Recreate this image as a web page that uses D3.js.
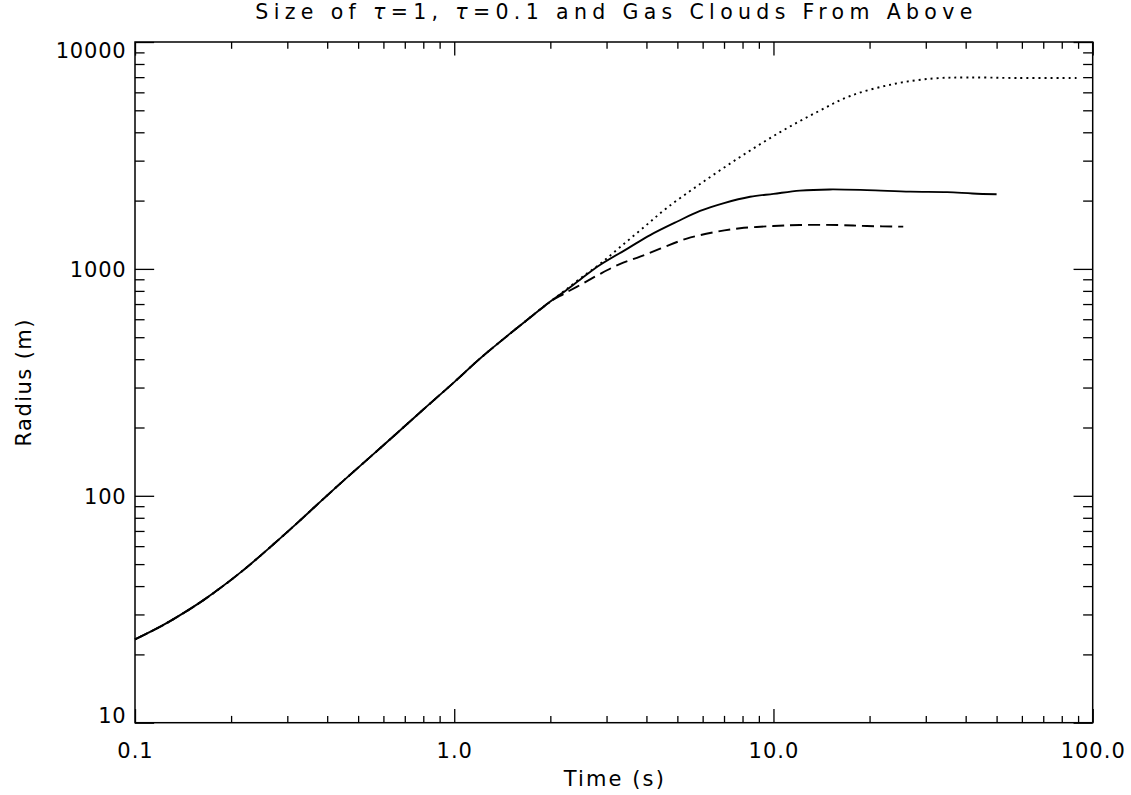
<!DOCTYPE html>
<html>
<head>
  <meta charset="UTF-8">
  <title>Size of tau clouds</title>
  <script src="https://d3js.org/d3.v7.min.js"></script>
  <style>
    body { margin: 0; background: #fff; }
    svg { display: block; }
    text { font-family: "DejaVu Sans", sans-serif; fill: #000; }
    .axis path.domain { display: none; }
    .axis line { stroke: #000; stroke-width: 1.3; }
    .curve { fill: none; stroke: #000; stroke-width: 1.9; }
  </style>
</head>
<body>
<svg width="1131" height="795"></svg>
<script>
  // shared early part (all three clouds lie on top of each other)
  var commonTime   = [0.1, 0.12, 0.138, 0.16, 0.185, 0.22, 0.271, 0.32, 0.371, 0.45, 0.6, 0.8, 1.0, 1.205, 1.5, 1.857, 2.0]
  var commonRadius = [23.3, 26.5, 29.7, 33.9, 39.2, 47.4, 61.0, 75.2, 91.1, 116.7, 167, 240, 317, 403, 520, 662, 718]

  // tau = 1 (solid)
  var solidTime   = [2.2, 2.5, 2.86, 3.5, 4.11, 5.0, 5.89, 7.0, 8.45, 10, 12.1, 15, 19.6, 26.8, 35, 42, 50]
  var solidRadius = [790, 905, 1040, 1232, 1410, 1618, 1800, 1950, 2080, 2142, 2213, 2240, 2225, 2190, 2180, 2150, 2132]

  // tau = 0.1 (dashed)
  var dashTime   = [2.2, 2.5, 2.86, 3.3, 3.82, 4.5, 5.35, 6.5, 7.86, 10, 12.1, 16, 19.6, 25.5]
  var dashRadius = [775, 855, 950, 1050, 1132, 1240, 1360, 1450, 1510, 1545, 1561, 1560, 1545, 1535]

  // gas cloud (dotted)
  var dotTime   = [2.2, 2.5, 2.86, 3.31, 3.9, 4.63, 5.89, 7.86, 10.5, 13.7, 17.4, 23.8, 31.6, 40.4, 57.8, 90]
  var dotRadius = [795, 915, 1051, 1249, 1514, 1854, 2366, 3113, 4009, 4915, 5781, 6530, 6906, 6977, 6940, 6940]

  var xTicks = [0.1, 1, 10, 100]
  var xTickLabels = ["0.1", "1.0", "10.0", "100.0"]
  var yTicks = [10, 100, 1000, 10000]
  var yTickLabels = ["10", "100", "1000", "10000"]

  var svg = d3.select("svg")
  var mLeft = 135, mTop = 42, mRight = 1092.7, mBottom = 722.7
  var width = mRight - mLeft, height = mBottom - mTop

  var x = d3.scaleLog().domain([0.1, 100]).range([0, width])
  var y = d3.scaleLog().domain([10, 10000]).range([height, 0])

  function minors(ticks) {
    var out = []
    for (var i = 0; i < ticks.length - 1; i++)
      for (var k = 2; k < 10; k++) out.push(ticks[i] * k)
    return out
  }

  var g = svg.append("g").attr("transform", "translate(" + mLeft + "," + mTop + ")")

  // ticks, IDL style: inward on all four sides
  var xlen = height * 0.02, ylen = width * 0.02

  var bx = g.append("g").attr("class", "axis").attr("transform", "translate(0," + height + ")")
    .call(d3.axisBottom(x).tickValues(xTicks).tickSize(-xlen).tickPadding(0)
      .tickFormat(function(d, i) { return xTickLabels[i] }))
  bx.selectAll("text").attr("y", 35.5).attr("dy", 0).style("font-size", "21px").style("letter-spacing", "1px")
  g.append("g").attr("class", "axis").attr("transform", "translate(0," + height + ")")
    .call(d3.axisBottom(x).tickValues(minors(xTicks)).tickSize(-xlen / 2).tickFormat(""))
  g.append("g").attr("class", "axis")
    .call(d3.axisTop(x).tickValues(xTicks).tickSize(-xlen).tickFormat(""))
  g.append("g").attr("class", "axis")
    .call(d3.axisTop(x).tickValues(minors(xTicks)).tickSize(-xlen / 2).tickFormat(""))

  var ly = g.append("g").attr("class", "axis")
    .call(d3.axisLeft(y).tickValues(yTicks).tickSize(-ylen).tickPadding(8.5)
      .tickFormat(function(d, i) { return yTickLabels[i] }))
  ly.selectAll("text").style("font-size", "21px").style("letter-spacing", "0.8px")
    .attr("dy", function(d, i) { return i == 0 ? "0" : (i == yTicks.length - 1 ? "15.5" : "7.5") })
  g.append("g").attr("class", "axis")
    .call(d3.axisLeft(y).tickValues(minors(yTicks)).tickSize(-ylen / 2).tickFormat(""))
  g.append("g").attr("class", "axis").attr("transform", "translate(" + width + ",0)")
    .call(d3.axisRight(y).tickValues(yTicks).tickSize(-ylen).tickFormat(""))
  g.append("g").attr("class", "axis").attr("transform", "translate(" + width + ",0)")
    .call(d3.axisRight(y).tickValues(minors(yTicks)).tickSize(-ylen / 2).tickFormat(""))

  g.append("rect").attr("width", width).attr("height", height)
    .attr("fill", "none").attr("stroke", "#000").attr("stroke-width", 1.5)

  var line = d3.line()
    .x(function(d) { return x(d[0]) })
    .y(function(d) { return y(d[1]) })
    .curve(d3.curveCatmullRom.alpha(0.5))

  function series(t, r) {
    var rr = commonRadius.concat(r)
    return commonTime.concat(t).map(function(d, i) { return [d, rr[i]] })
  }

  g.append("path").attr("class", "curve").attr("d", line(series(dotTime, dotRadius)))
    .attr("stroke-dasharray", "2,4")
  g.append("path").attr("class", "curve").attr("d", line(series(dashTime, dashRadius)))
    .attr("stroke-dasharray", "12,6")
  g.append("path").attr("class", "curve").attr("d", line(series(solidTime, solidRadius)))

  // titles
  var title = svg.append("text").attr("x", mLeft + width / 2).attr("y", 19)
    .attr("text-anchor", "middle").style("font-size", "20.5px")
    .attr("textLength", 717).attr("lengthAdjust", "spacing")
  title.append("tspan").text("Size of ")
  title.append("tspan").style("font-style", "italic").text("τ")
  title.append("tspan").text("=1, ")
  title.append("tspan").style("font-style", "italic").text("τ")
  title.append("tspan").text("=0.1 and Gas Clouds From Above")

  svg.append("text").attr("x", mLeft + width / 2).attr("y", 786)
    .attr("text-anchor", "middle").style("font-size", "21px")
    .attr("textLength", 100).attr("lengthAdjust", "spacing")
    .text("Time (s)")

  svg.append("text").attr("transform", "translate(30.5," + 383 + ") rotate(-90)")
    .attr("text-anchor", "middle").style("font-size", "21px")
    .attr("textLength", 127).attr("lengthAdjust", "spacing")
    .text("Radius (m)")
</script>
</body>
</html>
